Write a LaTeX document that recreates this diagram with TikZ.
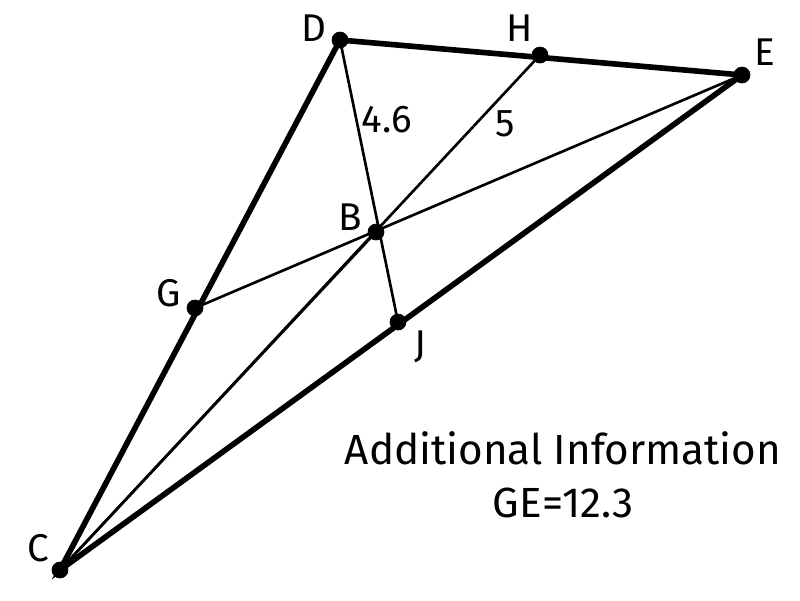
\documentclass[tikz,border=0pt]{standalone}
\usepackage{fontspec}
\setmainfont{Fira Sans}
\begin{document}
\begin{tikzpicture}[x=0.02cm, y=-0.02cm,
    thickline/.style = {line width=3.2pt, line cap=round},
    thinline/.style = {line width=1.5pt},
    dot/.style = {fill = black},
    lbl/.style = {font=\fontsize{22}{27}\selectfont}]

        \useasboundingbox (0,0) rectangle (800,600);

        % Positions for all of the points.
        \coordinate (D) at (340, 40);
        \coordinate (H) at (540, 55);
        \coordinate (E) at (742, 75);
        \coordinate (B) at (376, 232);
        \coordinate (G) at (195, 308);
        \coordinate (J) at (398, 322);
        \coordinate (C) at (60, 570);

        % Inner segments.
        \draw[thinline] (D) to (J);
        \draw[thinline] (C) to (H);
        \draw[thinline] (G) to (E);
        \draw[thinline] (C) to (B);

        % The outer triangle.
        \draw[thickline] (D) to (E) to (C) to cycle;

        % Points and their labels.
        \foreach \p in {D, H, E, B, G, J, C}
            \draw[dot] (\p) circle (8);
        \node[lbl] at (314, 28) {D};
        \node[lbl] at (520, 28) {H};
        \node[lbl] at (765, 52) {E};
        \node[lbl] at (350, 217) {B};
        \node[lbl] at (169, 293) {G};
        \node[lbl] at (420, 347) {J};
        \node[lbl] at (38, 548) {C};

        % Lengths.
        \node[lbl] at (387, 120) {4.6};
        \node[lbl] at (505, 124) {5};

        % Additional information.
        \node[font=\fontsize{24}{30}\selectfont, align=center] at (563, 475)
            {Additional Information\\GE=12.3};
    \end{tikzpicture}
\end{document}
